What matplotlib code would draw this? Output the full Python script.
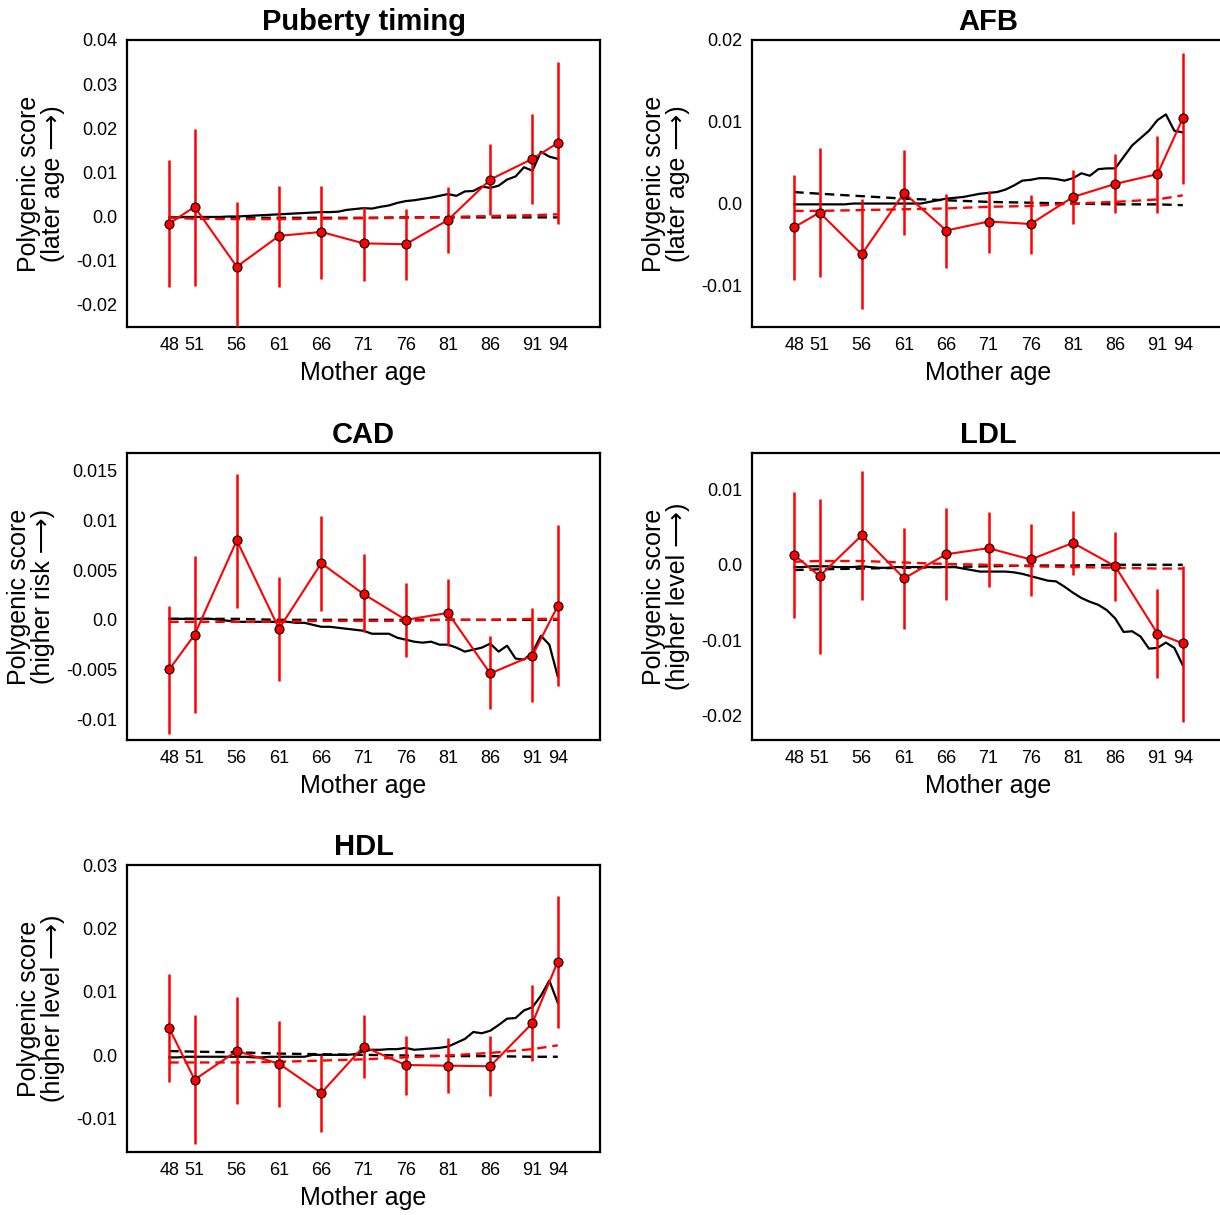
import matplotlib
matplotlib.use("Agg")
import matplotlib.pyplot as plt
import numpy as np

plt.rcParams['font.family'] = ['Liberation Sans', 'DejaVu Sans']
plt.rcParams['axes.unicode_minus'] = False

# ---------------- data ----------------
ages = [48, 51, 56, 61, 66, 71, 76, 81, 86, 91, 94]
years = list(range(48, 95))

titles = ["Puberty timing", "AFB", "CAD", "LDL", "HDL"]
ylabels = ["Polygenic score\n(later age \u27f6)",
           "Polygenic score\n(later age \u27f6)",
           "Polygenic score\n(higher risk \u27f6)",
           "Polygenic score\n(higher level \u27f6)",
           "Polygenic score\n(higher level \u27f6)"]

# binned means and 95% CI bounds
puberty_mean = [-0.0017, 0.0021, -0.0115, -0.0045, -0.0036, -0.0062, -0.0064, -0.0009, 0.0083, 0.0130, 0.0166]
puberty_hi = [0.0127, 0.0197, 0.0031, 0.0069, 0.0068, 0.0021, 0.0015, 0.0065, 0.0164, 0.0233, 0.0351]
puberty_lo = [-0.0162, -0.0158, -0.0270, -0.0161, -0.0142, -0.0148, -0.0145, -0.0083, 0.0002, 0.0027, -0.0019]

afb_mean = [-0.0029, -0.0011, -0.0062, 0.0013, -0.0033, -0.0022, -0.0025, 0.0008, 0.0024, 0.0036, 0.0104]
afb_hi = [0.0035, 0.0068, 0.0006, 0.0066, 0.0012, 0.0015, 0.0011, 0.0041, 0.0061, 0.0083, 0.0184]
afb_lo = [-0.0093, -0.0090, -0.0129, -0.0039, -0.0079, -0.0061, -0.0062, -0.0025, -0.0012, -0.0011, 0.0024]

cad_mean = [-0.0050, -0.0015, 0.0080, -0.0009, 0.0057, 0.0026, 0.0000, 0.0007, -0.0054, -0.0036, 0.0014]
cad_hi = [0.0014, 0.0064, 0.0147, 0.0043, 0.0105, 0.0066, 0.0037, 0.0041, -0.0016, 0.0012, 0.0096]
cad_lo = [-0.0115, -0.0094, 0.0012, -0.0062, 0.0009, -0.0012, -0.0037, -0.0026, -0.0090, -0.0083, -0.0067]

ldl_mean = [0.0013, -0.0015, 0.0039, -0.0018, 0.0014, 0.0022, 0.0007, 0.0029, -0.0002, -0.0091, -0.0104]
ldl_hi = [0.0097, 0.0087, 0.0124, 0.0049, 0.0075, 0.0070, 0.0054, 0.0071, 0.0044, -0.0032, -0.0001]
ldl_lo = [-0.0071, -0.0118, -0.0047, -0.0085, -0.0047, -0.0029, -0.0041, -0.0014, -0.0048, -0.0150, -0.0208]

hdl_mean = [0.0043, -0.0038, 0.0007, -0.0013, -0.0059, 0.0014, -0.0015, -0.0016, -0.0017, 0.0051, 0.0148]
hdl_hi = [0.0128, 0.0063, 0.0092, 0.0055, 0.0000, 0.0064, 0.0031, 0.0027, 0.0030, 0.0111, 0.0251]
hdl_lo = [-0.0041, -0.0140, -0.0077, -0.0081, -0.0120, -0.0036, -0.0062, -0.0059, -0.0064, -0.0009, 0.0044]

# yearly running curve (black solid), ages 48..94
puberty_year = [-0.0003, -0.0003, -0.0002, -0.0002, -0.0002, -0.0002, -0.0002, -0.0001, -0.0001, 0.0000,
                0.0001, 0.0002, 0.0003, 0.0004, 0.0005, 0.0006, 0.0007, 0.0008, 0.0009, 0.0009,
                0.0010, 0.0014, 0.0016, 0.0018, 0.0017, 0.0021, 0.0024, 0.0030, 0.0034, 0.0036,
                0.0039, 0.0042, 0.0046, 0.0050, 0.0046, 0.0056, 0.0057, 0.0067, 0.0064, 0.0069,
                0.0083, 0.0090, 0.0111, 0.0103, 0.0146, 0.0135, 0.0130]
afb_year = [-0.0001, -0.0001, -0.0001, -0.0001, -0.0001, -0.0001, -0.0001, 0.0000, 0.0000, 0.0000,
            0.0000, 0.0000, 0.0000, 0.0000, 0.0000, 0.0000, 0.0002, 0.0004, 0.0006, 0.0007,
            0.0008, 0.0010, 0.0012, 0.0013, 0.0014, 0.0017, 0.0022, 0.0028, 0.0029, 0.0031,
            0.0031, 0.0030, 0.0028, 0.0031, 0.0037, 0.0034, 0.0042, 0.0043, 0.0043, 0.0057,
            0.0071, 0.0080, 0.0089, 0.0102, 0.0109, 0.0089, 0.0087]
cad_year = [0.0001, 0.0001, 0.0001, 0.0001, 0.0001, 0.0001, 0.0000, -0.0001, -0.0002, -0.0002,
            -0.0002, -0.0002, -0.0002, -0.0002, -0.0002, -0.0003, -0.0003, -0.0005, -0.0007, -0.0007,
            -0.0008, -0.0009, -0.0010, -0.0011, -0.0014, -0.0014, -0.0014, -0.0018, -0.0020, -0.0022,
            -0.0023, -0.0022, -0.0025, -0.0025, -0.0028, -0.0032, -0.0030, -0.0028, -0.0024, -0.0032,
            -0.0026, -0.0039, -0.0040, -0.0033, -0.0016, -0.0025, -0.0057]
ldl_year = [-0.0003, -0.0003, -0.0002, -0.0002, -0.0002, -0.0003, -0.0003, -0.0003, -0.0002, -0.0003,
            -0.0004, -0.0004, -0.0003, -0.0003, -0.0003, -0.0003, -0.0003, -0.0003, -0.0003, -0.0003,
            -0.0005, -0.0007, -0.0009, -0.0009, -0.0009, -0.0009, -0.0010, -0.0012, -0.0015, -0.0018,
            -0.0021, -0.0022, -0.0029, -0.0037, -0.0044, -0.0049, -0.0053, -0.0060, -0.0071, -0.0089,
            -0.0088, -0.0095, -0.0111, -0.0110, -0.0103, -0.0110, -0.0133]
hdl_year = [-0.0003, -0.0003, -0.0002, -0.0002, -0.0002, -0.0002, -0.0002, -0.0002, -0.0002, -0.0002,
            -0.0003, -0.0003, -0.0002, -0.0002, -0.0002, -0.0002, -0.0002, 0.0001, 0.0001, 0.0001,
            0.0001, 0.0001, 0.0002, 0.0007, 0.0009, 0.0009, 0.0010, 0.0010, 0.0012, 0.0009,
            0.0010, 0.0011, 0.0012, 0.0014, 0.0020, 0.0026, 0.0037, 0.0035, 0.0039, 0.0048,
            0.0058, 0.0059, 0.0071, 0.0076, 0.0094, 0.0118, 0.0083]

# fitted trends at binned ages: black dashed and red dashed
puberty_fit_black = [-0.0004, -0.0004, -0.0004, -0.0004, -0.0004, -0.0004, -0.0003, -0.0003, -0.0003, -0.0003, -0.0003]
puberty_fit_red = [-0.0004, -0.0006, -0.0007, -0.0007, -0.0006, -0.0005, -0.0004, -0.0002, 0.0000, 0.0002, 0.0004]
afb_fit_black = [0.0014, 0.0012, 0.0009, 0.0006, 0.0004, 0.0002, 0.0001, 0.0000, -0.0001, -0.0001, -0.0002]
afb_fit_red = [-0.0009, -0.0009, -0.0008, -0.0007, -0.0006, -0.0004, -0.0003, 0.0000, 0.0002, 0.0005, 0.0010]
cad_fit_black = [0.0001, 0.0001, 0.0001, 0.0000, 0.0000, 0.0000, 0.0000, 0.0000, 0.0000, 0.0000, 0.0000]
cad_fit_red = [-0.0002, -0.0002, -0.0002, -0.0002, -0.0001, -0.0001, -0.0001, 0.0000, 0.0000, 0.0001, 0.0001]
ldl_fit_black = [-0.0007, -0.0006, -0.0005, -0.0004, -0.0003, -0.0002, -0.0001, -0.0001, 0.0000, 0.0000, 0.0000]
ldl_fit_red = [0.0004, 0.0005, 0.0005, 0.0003, 0.0001, 0.0000, -0.0002, -0.0003, -0.0004, -0.0005, -0.0005]
hdl_fit_black = [0.0007, 0.0006, 0.0005, 0.0003, 0.0002, 0.0001, 0.0000, -0.0001, -0.0001, -0.0002, -0.0002]
hdl_fit_red = [-0.0011, -0.0011, -0.0011, -0.0010, -0.0008, -0.0006, -0.0003, 0.0000, 0.0004, 0.0010, 0.0016]

yticks = [[-0.02, -0.01, 0.0, 0.01, 0.02, 0.03, 0.04],
          [-0.01, 0.0, 0.01, 0.02],
          [-0.01, -0.005, 0.0, 0.005, 0.01, 0.015],
          [-0.02, -0.01, 0.0, 0.01],
          [-0.01, 0.0, 0.01, 0.02, 0.03]]
yticklabels = [["-0.02", "-0.01", "0.0", "0.01", "0.02", "0.03", "0.04"],
               ["-0.01", "0.0", "0.01", "0.02"],
               ["-0.01", "-0.005", "0.0", "0.005", "0.01", "0.015"],
               ["-0.02", "-0.01", "0.0", "0.01"],
               ["-0.01", "0.0", "0.01", "0.02", "0.03"]]
ylims = [(-0.0252, 0.040), (-0.0151, 0.020), (-0.0121, 0.0168), (-0.0232, 0.0148), (-0.0152, 0.030)]

means = [puberty_mean, afb_mean, cad_mean, ldl_mean, hdl_mean]
his = [puberty_hi, afb_hi, cad_hi, ldl_hi, hdl_hi]
los = [puberty_lo, afb_lo, cad_lo, ldl_lo, hdl_lo]
yearly = [puberty_year, afb_year, cad_year, ldl_year, hdl_year]
fits_black = [puberty_fit_black, afb_fit_black, cad_fit_black, ldl_fit_black, hdl_fit_black]
fits_red = [puberty_fit_red, afb_fit_red, cad_fit_red, ldl_fit_red, hdl_fit_red]

# ---------------- layout ----------------
W, H = 1220, 1215
fig = plt.figure(figsize=(W / 100, H / 100), dpi=100)
boxes = [(127, 40), (752, 40), (127, 453), (752, 453), (127, 865)]
aw, ah = 473, 287

for i in range(5):
    x0, y0 = boxes[i]
    ax = fig.add_axes([x0 / W, 1 - (y0 + ah) / H, aw / W, ah / H])
    ax.plot(years, yearly[i], color='black', lw=1.6, zorder=2)
    ax.plot(ages, fits_black[i], color='black', lw=1.7, ls=(0, (4, 2.5)), zorder=2)
    ax.plot(ages, fits_red[i], color='red', lw=1.7, ls=(0, (4, 2.5)), zorder=2)
    m = np.array(means[i]); hi = np.array(his[i]); lo = np.array(los[i])
    ax.vlines(ages, lo, hi, color='red', lw=1.8, zorder=3)
    ax.plot(ages, m, color='red', lw=1.5, zorder=4)
    ax.plot(ages, m, ls='none', marker='o', ms=6.5, mfc='red', mec='black', mew=0.8, zorder=5)

    ax.set_xlim(43, 99)
    ax.set_ylim(*ylims[i])
    ax.set_xticks(ages)
    ax.set_xticklabels([str(a) for a in ages], fontsize=13)
    ax.set_yticks(yticks[i])
    ax.set_yticklabels(yticklabels[i], fontsize=13)
    ax.tick_params(length=0, pad=7)
    for s in ax.spines.values():
        s.set_linewidth(1.6)
        s.set_color('black')
    ax.set_title(titles[i], fontsize=21, fontweight='bold', pad=7)
    ax.set_xlabel("Mother age", fontsize=18, labelpad=5)
    ax.set_ylabel(ylabels[i], fontsize=18, labelpad=8, linespacing=1.0)

fig.savefig("out.png", dpi=100)
